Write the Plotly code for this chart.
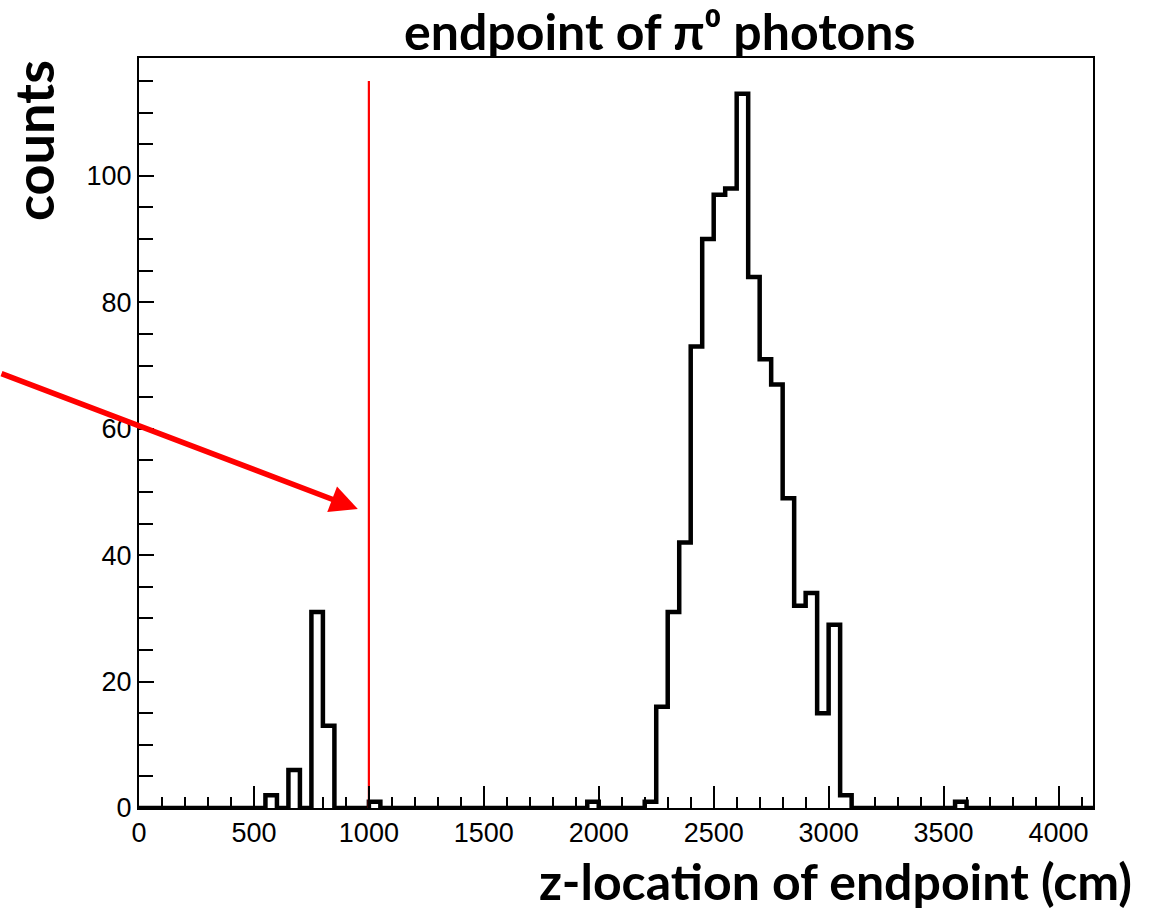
import numpy as np
import plotly.graph_objects as go

# Histogram: 83 bins of width 50 cm from 0 to 4150 cm
bin_low = 0
bin_width = 50
counts = [
    0, 0, 0, 0, 0, 0, 0, 0, 0, 0,      # 0 - 500
    0, 2, 0, 6, 0, 31, 13, 0, 0, 0,    # 500 - 1000
    1, 0, 0, 0, 0, 0, 0, 0, 0, 0,      # 1000 - 1500
    0, 0, 0, 0, 0, 0, 0, 0, 0, 1,      # 1500 - 2000
    0, 0, 0, 0, 1, 16, 31, 42, 73, 90, # 2000 - 2500
    97, 98, 113, 84, 71, 67, 49, 32, 34, 15,  # 2500 - 3000
    29, 2, 0, 0, 0, 0, 0, 0, 0, 0,     # 3000 - 3500
    0, 1, 0, 0, 0, 0, 0, 0, 0, 0,      # 3500 - 4000
    0, 0, 0,                           # 4000 - 4150
]
cut_position = [1000, 1000]
cut_height = [0, 115]
arrow_head = (952, 47.3)

title_text = "endpoint of π⁰ photons"
x_title = "z-location of endpoint (cm)"
y_title = "counts"

edges = bin_low + bin_width * np.arange(len(counts) + 1)
x_max = edges[-1]
y_max = 1.05 * max(counts)

fig = go.Figure()
fig.add_trace(go.Scatter(
    x=edges, y=counts + [counts[-1]], mode="lines",
    line=dict(shape="hv", color="black", width=4.5),
    showlegend=False, hoverinfo="skip", cliponaxis=False,
))
fig.add_trace(go.Scatter(
    x=cut_position, y=cut_height, mode="lines",
    line=dict(color="#ff0000", width=2.2), showlegend=False, hoverinfo="skip",
))

L, R, T, B = 139, 1093, 58, 808
W, H = 1160, 910
def px(xp):
    return (xp - L) / (R - L)
def py(yp):
    return (B - yp) / (B - T)

tick_font = dict(family="Liberation Sans, Arial, sans-serif", size=27, color="black")
title_font = dict(family="Lato, sans-serif", size=50, color="black")

fig.update_layout(
    width=W, height=H,
    margin=dict(l=L, r=W - R, t=T, b=H - B),
    plot_bgcolor="white", paper_bgcolor="white",
    xaxis=dict(
        range=[0, x_max], showline=True, linecolor="black", linewidth=2, mirror=True,
        ticks="inside", ticklen=22, tickwidth=2, tickcolor="black",
        tick0=0, dtick=500, tickfont=tick_font,
        minor=dict(ticks="inside", ticklen=11, tickwidth=2, tickcolor="black", dtick=100, showgrid=False),
        showgrid=False, zeroline=False,
    ),
    yaxis=dict(
        range=[0, y_max], showline=True, linecolor="black", linewidth=2, mirror=True,
        ticks="inside", ticklen=15, tickwidth=2, tickcolor="black",
        tick0=0, dtick=20, tickfont=tick_font,
        minor=dict(ticks="inside", ticklen=14, tickwidth=2, tickcolor="black", dtick=5, showgrid=False),
        showgrid=False, zeroline=False,
    ),
    annotations=[
        dict(text="<b>" + title_text + "</b>", xref="paper", yref="paper",
             x=px(659), y=py(31), xanchor="center", yanchor="middle",
             showarrow=False, font=title_font),
        dict(text="<b>" + x_title + "</b>", xref="paper", yref="paper",
             x=px(1134), y=py(881), xanchor="right", yanchor="middle",
             showarrow=False, font=title_font),
        dict(text="<b>" + y_title + "</b>", xref="paper", yref="paper",
             x=px(33), y=py(141), xanchor="center", yanchor="middle", textangle=-90,
             showarrow=False, font=dict(family="Lato, sans-serif", size=54, color="black")),
        dict(text="", x=arrow_head[0], y=arrow_head[1], xref="x", yref="y",
             ax=-358, ay=-136, showarrow=True, arrowhead=2, arrowsize=1,
             arrowwidth=5.5, arrowcolor="#ff0000", standoff=0),
    ],
)

fig.write_html("out.html", config={"displayModeBar": False},
               post_script="document.body.style.margin='0';document.body.style.overflow='hidden';")
